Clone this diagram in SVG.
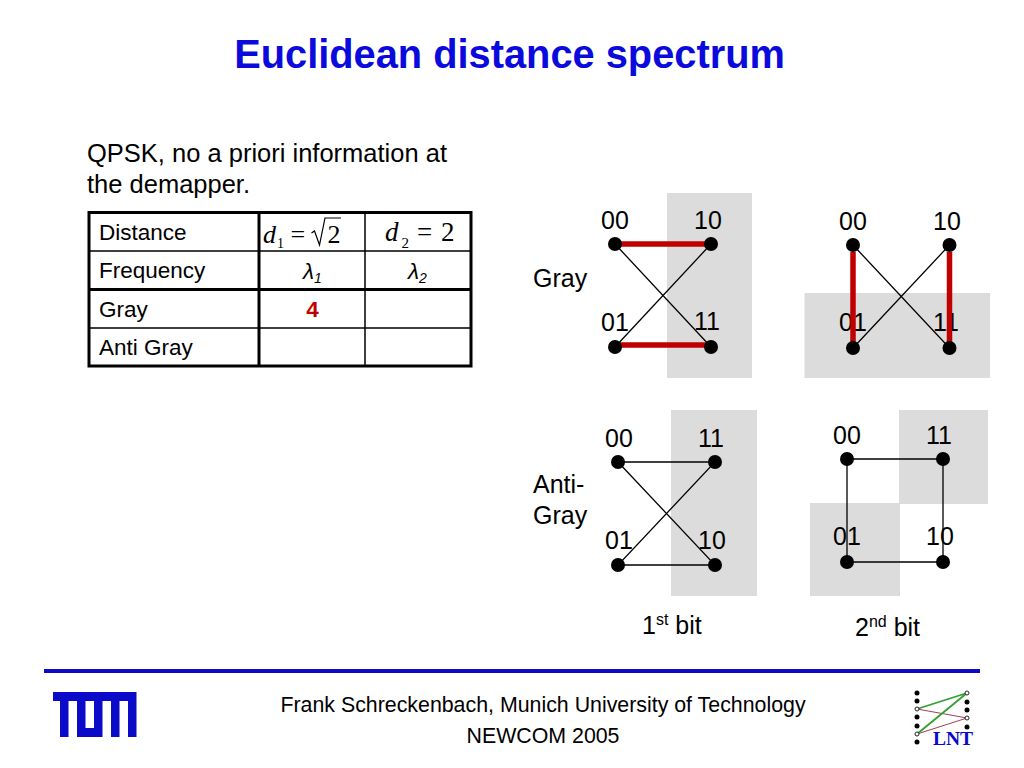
<svg xmlns="http://www.w3.org/2000/svg" width="1024" height="768" viewBox="0 0 1024 768">
<style>
text{font-family:"Liberation Sans",Arial,sans-serif;fill:#000}
.l{font-size:25px}
.t{font-size:22.500px}
.m{font-family:"Liberation Serif","Times New Roman",serif;font-style:italic}
.r{font-family:"Liberation Serif","Times New Roman",serif}
.g{fill:#dcdcdc}
.e{stroke:#000;stroke-width:1.300;fill:none}
.h{stroke:#c00000;stroke-width:5.500;fill:none}
.d{fill:#000}
.tb{stroke:#000;fill:none}
.c{text-anchor:middle}
.f{font-size:21.350px}
</style>
<rect width="1024" height="768" fill="#fff"/>
<text id="title" x="509.500" y="67.500" class="c" style="font-size:39.800px;font-weight:bold;fill:#0a0adc">Euclidean distance spectrum</text>
<text x="87" y="162" style="font-size:25.500px">QPSK, no a priori information at</text>
<text x="87" y="193" style="font-size:25.500px">the demapper.</text>

<g id="table">
<path class="tb" stroke-width="1.500" d="M89 251H471M89 328H471M365 212V366"/>
<path class="tb" stroke-width="3" d="M89 212.500H471V366H89ZM259 212V366M89 289.500H471"/>
<text x="99" y="240" class="t">Distance</text>
<text x="99" y="278" class="t">Frequency</text>
<text x="99" y="317" class="t">Gray</text>
<text x="99" y="355" class="t">Anti Gray</text>
<text x="263" y="243" class="m" font-size="26">d</text>
<text x="277" y="248" class="r" font-size="14">1</text>
<text x="290.500" y="243" class="r" font-size="26">=</text>
<path d="M311.500 233l3-2 5 14 5.500-27h16" stroke="#000" stroke-width="1.200" fill="none"/>
<text x="327.500" y="243" class="r" font-size="26">2</text>
<text x="385" y="241" class="m" font-size="27">d</text>
<text x="401.500" y="248" class="r" font-size="15">2</text>
<text x="417" y="241" class="r" font-size="27">=</text>
<text x="441" y="241" class="r" font-size="27">2</text>
<text x="303" y="279" class="t" style="font-style:italic">λ<tspan font-size="14" dy="4">1</tspan></text>
<text x="408" y="279" class="t" style="font-style:italic">λ<tspan font-size="14" dy="4">2</tspan></text>
<text x="312.500" y="317" class="t c" style="font-weight:bold;fill:#c00000">4</text>
</g>

<text x="533" y="286.500" class="l">Gray</text>
<text x="533" y="492.500" class="l">Anti-</text>
<text x="533" y="523.500" class="l">Gray</text>

<g id="backgrounds">
<rect class="g" x="667" y="193" width="85" height="185"/>
<rect class="g" x="804.500" y="293" width="185.500" height="85"/>
<rect class="g" x="671" y="410" width="86" height="186"/>
<rect class="g" x="899" y="410" width="89" height="94"/>
<rect class="g" x="810" y="503" width="90" height="93"/>
</g>

<g id="labels">
<text x="601" y="229" class="l">00</text><text x="694" y="229" class="l">10</text>
<text x="601" y="331" class="l">01</text><text x="694" y="330" class="l">11</text>
<text x="839" y="230" class="l">00</text><text x="933" y="230" class="l">10</text>
<text x="839" y="331" class="l">01</text><text x="933" y="331" class="l">11</text>
<text x="605" y="447" class="l">00</text><text x="698" y="447" class="l">11</text>
<text x="605" y="549" class="l">01</text><text x="698" y="549" class="l">10</text>
<text x="833" y="444" class="l">00</text><text x="926" y="444" class="l">11</text>
<text x="833" y="545" class="l">01</text><text x="926" y="545" class="l">10</text>
<text x="642" y="634" class="l">1<tspan font-size="16" dy="-9">st</tspan><tspan dy="9"> bit</tspan></text>
<text x="855" y="636" class="l">2<tspan font-size="16" dy="-9">nd</tspan><tspan dy="9"> bit</tspan></text>
</g>

<g id="connectors">
<path class="e" d="M615 244L711 347M615 347L711 244"/>
<path class="h" d="M615 244H711M615 345H711"/>
<path class="e" d="M853 245L949.500 348M853 348L949.500 245"/>
<path class="h" d="M853 252V348M949.500 252V348"/>
<path class="e" d="M618 462H715L618 565H715L618 462"/>
<path class="e" d="M847 459H943V562H847Z"/>
</g>

<g id="nodes">
<circle class="d" id="n1" cx="615" cy="244" r="7"/><circle class="d" id="n2" cx="711" cy="244" r="7"/>
<circle class="d" id="n3" cx="615" cy="347" r="7"/><circle class="d" id="n4" cx="711" cy="347" r="7"/>
<circle class="d" id="n5" cx="853" cy="245" r="7"/><circle class="d" id="n6" cx="949.500" cy="245" r="7"/>
<circle class="d" id="n7" cx="853" cy="348" r="7"/><circle class="d" id="n8" cx="949.500" cy="348" r="7"/>
<circle class="d" id="n9" cx="618" cy="462" r="7"/><circle class="d" id="n10" cx="715" cy="462" r="7"/>
<circle class="d" id="n11" cx="618" cy="565" r="7"/><circle class="d" id="n12" cx="715" cy="565" r="7"/>
<circle class="d" id="n13" cx="847" cy="459" r="7"/><circle class="d" id="n14" cx="943" cy="459" r="7"/>
<circle class="d" id="n15" cx="847" cy="562" r="7"/><circle class="d" id="n16" cx="943" cy="562" r="7"/>
</g>

<g id="footer">
<rect x="44" y="669" width="936" height="4" fill="#0a0ac8"/>
<path id="tum" fill="#0a0ac8" fill-rule="evenodd" d="M53 692H136.500V737H128V701H119.500V737H111V701H102.500V737H77V701H68.500V737H60V701H53ZM85.500 701H94V728H85.500Z"/>
<text x="543" y="712" class="c f">Frank Schreckenbach, Munich University of Technology</text>
<text x="543" y="743" class="c f">NEWCOM 2005</text>
<g id="lnt">
<g fill="#000"><circle cx="917" cy="693" r="2.500"/><circle cx="917" cy="701" r="2.500"/><circle cx="917" cy="717" r="2.500"/><circle cx="917" cy="726" r="2.500"/><circle cx="917" cy="742" r="2.500"/><circle cx="967" cy="702" r="2.500"/><circle cx="967" cy="710" r="2.500"/><circle cx="967" cy="727" r="2.500"/></g>
<path d="M917 709L967 718M917 734L967 718" stroke="#a04050" stroke-width="1" fill="none"/>
<path d="M917 709L967 693L917 734" stroke="#30a030" stroke-width="1.800" fill="none"/>
<g fill="#fff" stroke="#222" stroke-width="1"><circle cx="917" cy="709" r="2"/><circle cx="917" cy="734" r="2"/><circle cx="967" cy="693" r="2"/><circle cx="967" cy="718" r="2"/></g>
<text x="953" y="744.500" class="c r" style="font-size:19.500px;font-weight:bold;fill:#0a0ac8">LNT</text>
</g>
</g>
</svg>
